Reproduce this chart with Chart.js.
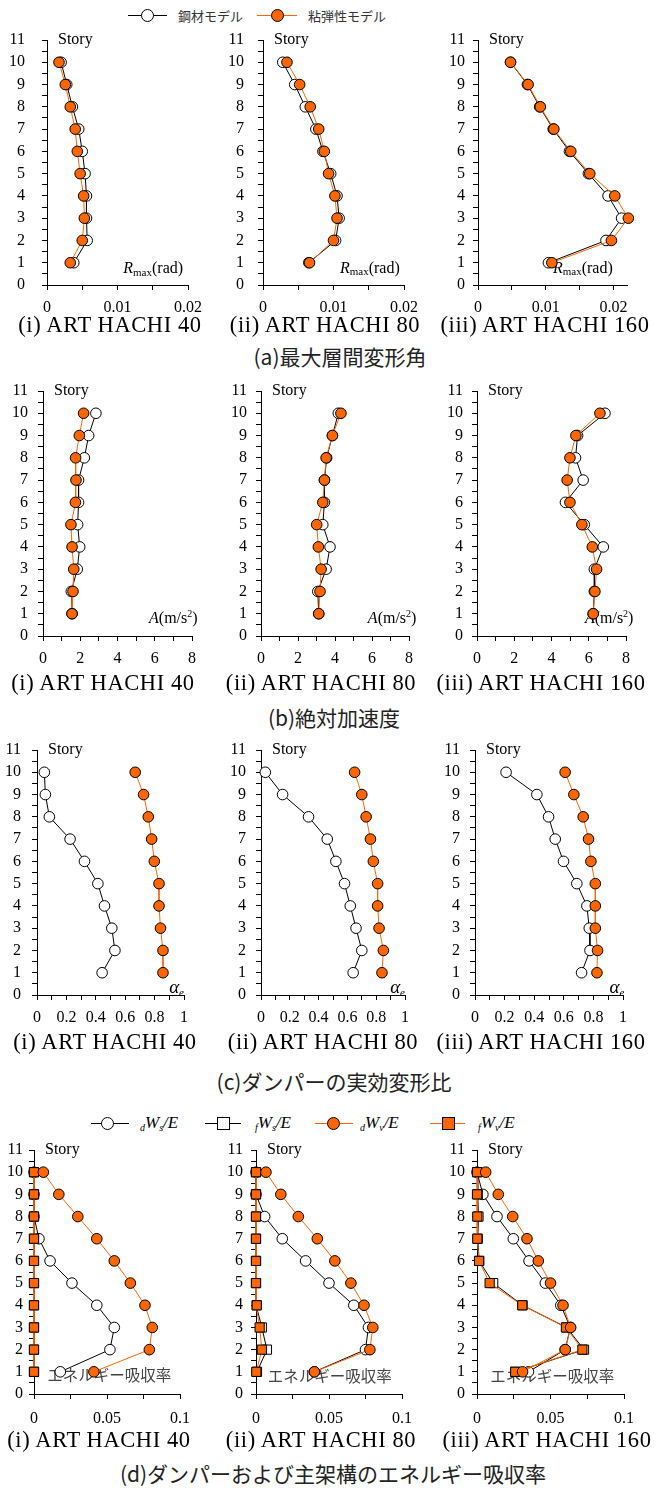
<!DOCTYPE html>
<html>
<head>
<meta charset="utf-8">
<script src="https://cdn.jsdelivr.net/npm/chart.js@4.4.1/dist/chart.umd.min.js"></script>
<style>
  body { margin: 0; background: #fff; width: 667px; height: 1488px; position: relative; overflow: hidden; font-family: "Liberation Serif", serif; }
  .t { position: absolute; white-space: nowrap; line-height: 1; transform: translate(-50%, -50%); }
  .sub { font-family: "Liberation Serif", serif; font-size: 22.5px; letter-spacing: 0.6px; color: #000; }
  .cap { font-family: "Noto Sans CJK JP", sans-serif; font-size: 21px; color: #222; }
  .lg { position: absolute; white-space: nowrap; line-height: 1; transform: translateY(-50%); }
  .jp { font-family: "Noto Sans CJK JP", sans-serif; font-size: 13px; color: #333; }
  .it { font-family: "Liberation Serif", serif; font-style: italic; font-size: 17px; color: #000; }
  .it sub { font-size: 10px; vertical-align: -3px; }
</style>
</head>
<body>
<script>
// story levels (top to bottom)
const stories = [10, 9, 8, 7, 6, 5, 4, 3, 2, 1];

// (a) max inter-story drift angle
const rmaxSteel40 = [0.0020, 0.0028, 0.0036, 0.0045, 0.0050, 0.0054, 0.0056, 0.0056, 0.0057, 0.0038];
const rmaxVisco40 = [0.0017, 0.0026, 0.0033, 0.0040, 0.0043, 0.0047, 0.0052, 0.0053, 0.0050, 0.0033];
const rmaxSteel80 = [0.0028, 0.0045, 0.0060, 0.0075, 0.0085, 0.0096, 0.0105, 0.0108, 0.0103, 0.0065];
const rmaxVisco80 = [0.0034, 0.0052, 0.0067, 0.0079, 0.0087, 0.0093, 0.0102, 0.0105, 0.0100, 0.0066];
const rmaxSteel160 = [0.0048, 0.0073, 0.0091, 0.0111, 0.0135, 0.0163, 0.0192, 0.0212, 0.0189, 0.0104];
const rmaxVisco160 = [0.0048, 0.0074, 0.0092, 0.0112, 0.0137, 0.0165, 0.0202, 0.0222, 0.0197, 0.0109];

// (b) absolute acceleration
const accSteel40 = [2.84, 2.45, 2.22, 1.91, 1.91, 1.86, 1.97, 1.84, 1.52, 1.56];
const accVisco40 = [2.18, 1.95, 1.75, 1.77, 1.74, 1.50, 1.56, 1.65, 1.61, 1.56];
const accSteel80 = [4.18, 3.86, 3.55, 3.43, 3.43, 3.34, 3.73, 3.52, 3.07, 3.12];
const accVisco80 = [4.32, 3.86, 3.52, 3.43, 3.34, 3.01, 3.10, 3.25, 3.19, 3.12];
const accSteel160 = [6.87, 5.40, 5.29, 5.70, 4.75, 5.76, 6.78, 6.30, 6.30, 6.24];
const accVisco160 = [6.60, 5.31, 4.99, 4.84, 4.99, 5.63, 6.19, 6.42, 6.33, 6.24];

// (c) effective deformation ratio
const alphaSteel40 = [0.05, 0.057, 0.084, 0.225, 0.323, 0.414, 0.459, 0.509, 0.53, 0.443];
const alphaVisco40 = [0.668, 0.725, 0.757, 0.78, 0.798, 0.83, 0.83, 0.84, 0.857, 0.857];
const alphaSteel80 = [0.03, 0.15, 0.33, 0.46, 0.52, 0.58, 0.62, 0.66, 0.70, 0.64];
const alphaVisco80 = [0.65, 0.70, 0.73, 0.76, 0.78, 0.81, 0.81, 0.82, 0.85, 0.84];
const alphaSteel160 = [0.21, 0.418, 0.497, 0.542, 0.598, 0.688, 0.756, 0.772, 0.777, 0.72];
const alphaVisco160 = [0.609, 0.668, 0.731, 0.767, 0.783, 0.813, 0.813, 0.813, 0.828, 0.824];

// (d) energy absorption ratio
const dWs40 = [0, 0, 0, 0.0034, 0.011, 0.026, 0.043, 0.055, 0.052, 0.018];
const fWs40 = [0, 0, 0, 0, 0, 0, 0, 0, 0, 0];
const dWv40 = [0.0064, 0.017, 0.030, 0.043, 0.055, 0.066, 0.076, 0.081, 0.079, 0.041];
const fWv40 = [0, 0, 0, 0, 0, 0, 0, 0, 0, 0];
const dWs80 = [0, 0, 0.0059, 0.018, 0.034, 0.050, 0.067, 0.077, 0.075, 0.040];
const fWs80 = [0, 0, 0, 0, 0, 0, 0.0005, 0.004, 0.0075, 0.0007];
const dWv80 = [0.0068, 0.017, 0.029, 0.042, 0.054, 0.065, 0.074, 0.080, 0.078, 0.040];
const fWv80 = [0, 0, 0, 0, 0, 0, 0.0005, 0.0025, 0.004, 0.0002];
const dWs160 = [0, 0.004, 0.0136, 0.0247, 0.0354, 0.0465, 0.057, 0.0635, 0.060, 0.035];
const fWs160 = [0.0003, 0.0005, 0.001, 0.0005, 0.0015, 0.011, 0.031, 0.061, 0.0728, 0.026];
const dWv160 = [0.0059, 0.0145, 0.0243, 0.034, 0.0417, 0.050, 0.0585, 0.0637, 0.060, 0.031];
const fWv160 = [0, 0, 0.0002, 0.0002, 0.0014, 0.0086, 0.0308, 0.0605, 0.0717, 0.026];

// tick labels
const storyTicks = [0, 1, 2, 3, 4, 5, 6, 7, 8, 9, 10, 11];
const rmaxTicks = ['0', '0.01', '0.02'];
const accTicks = ['0', '2', '4', '6', '8'];
const alphaTicks = ['0', '0.2', '0.4', '0.6', '0.8', '1'];
const energyTicks = ['0', '0.05', '0.1'];

const subtitles = ['(i) ART HACHI 40', '(ii) ART HACHI 80', '(iii) ART HACHI 160'];
const captions = ['(a)最大層間変形角', '(b)絶対加速度', '(c)ダンパーの実効変形比', '(d)ダンパーおよび主架構のエネルギー吸収率'];

const ORANGE = '#ff6600';
const SERIF = '"Liberation Serif", serif';

const steel = { line: '#000', fill: '#fff', shape: 'circle', order: 2 };
const visco = { line: ORANGE, fill: ORANGE, shape: 'circle', order: 1 };
const dWsStyle = { line: '#000', fill: '#fff', shape: 'circle', order: 4 };
const fWsStyle = { line: '#000', fill: '#fff', shape: 'rect', order: 3 };
const fWvStyle = { line: ORANGE, fill: ORANGE, shape: 'rect', order: 2 };
const dWvStyle = { line: ORANGE, fill: ORANGE, shape: 'circle', order: 1 };

function series(xs, st) {
  return {
    data: xs.map((v, i) => ({ x: v, y: stories[i] })),
    showLine: true,
    borderColor: st.line,
    borderWidth: 1,
    pointBackgroundColor: st.fill,
    pointBorderColor: '#000',
    pointBorderWidth: 1,
    pointStyle: st.shape,
    pointRadius: st.shape === 'rect' ? 6.5 : 5.3,
    pointHoverRadius: st.shape === 'rect' ? 6.5 : 5.3,
    tension: 0,
    clip: false,
    order: st.order
  };
}

// label inside the plot (rich text pieces)
const LABELS = {
  rmax: [
    { t: 'R', f: 'italic 16px ' + SERIF },
    { t: 'max', f: '11px ' + SERIF, dy: 4 },
    { t: '(rad)', f: '16px ' + SERIF }
  ],
  acc: [
    { t: 'A', f: 'italic 16px ' + SERIF },
    { t: '(m/s', f: '16px ' + SERIF },
    { t: '2', f: '10px ' + SERIF, dy: -5 },
    { t: ')', f: '16px ' + SERIF }
  ],
  alpha: [
    { t: 'α', f: 'italic 19px ' + SERIF },
    { t: 'e', f: 'italic 11px ' + SERIF, dy: 5 }
  ],
  energy: [
    { t: 'エネルギー吸収率', f: '15.5px "Noto Sans CJK JP", sans-serif', c: '#444' }
  ]
};

const innerText = {
  id: 'innerText',
  beforeDatasetsDraw(chart, args, opts) {
    const { ctx, chartArea, scales: { x, y } } = chart;
    ctx.save();
    ctx.textBaseline = 'middle';
    ctx.textAlign = 'left';
    ctx.fillStyle = '#000';
    ctx.font = '16px ' + SERIF;
    ctx.fillText('Story', chartArea.left + 11, y.getPixelForValue(11));

    const parts = LABELS[opts.label];
    let total = 0;
    parts.forEach(p => { ctx.font = p.f; total += ctx.measureText(p.t).width; });
    let px = x.getPixelForValue(opts.at[0]);
    if (opts.align === 'right') px -= total;
    const py = y.getPixelForValue(opts.at[1]);
    parts.forEach(p => {
      ctx.font = p.f;
      ctx.fillStyle = p.c || '#000';
      ctx.fillText(p.t, px, py + (p.dy || 0));
      px += ctx.measureText(p.t).width;
    });
    ctx.restore();
  }
};

function addChart(c) {
  const { left, right, top, bottom } = c.box;
  const YW = Math.min(42, left);
  const PT = 10, PR = 26, XH = 34;
  const w = right - left + YW + PR;
  const h = bottom - top + PT + XH;
  const cv = document.createElement('canvas');
  cv.width = w;
  cv.height = h;
  cv.style.cssText = `position:absolute;left:${left - YW}px;top:${top - PT}px;width:${w}px;height:${h}px`;
  document.body.appendChild(cv);

  const labelVals = c.xLabels.map(Number);
  const xVals = [];
  for (let v = 0; v <= c.xMax + 1e-9; v += c.xMinor) xVals.push(+v.toFixed(6));
  const yVals = [];
  for (let v = 0; v <= 11; v += 0.5) yVals.push(v);

  const tickFont = { family: SERIF, size: 16 };
  new Chart(cv, {
    type: 'scatter',
    data: { datasets: c.datasets },
    plugins: [innerText],
    options: {
      responsive: false,
      animation: false,
      events: [],
      layout: { padding: { left: 0, top: PT, right: PR, bottom: 0 } },
      plugins: {
        legend: { display: false },
        tooltip: { enabled: false },
        innerText: { label: c.label, at: c.labelAt, align: c.align || 'right' }
      },
      scales: {
        x: {
          type: 'linear', min: 0, max: c.xMax,
          afterBuildTicks: s => { s.ticks = xVals.map(v => ({ value: v })); },
          afterFit: s => { s.height = XH; s.paddingLeft = 0; s.paddingRight = 0; },
          ticks: {
            autoSkip: false, maxRotation: 0, padding: c.xPad || 8,
            color: '#000', font: tickFont,
            callback: v => {
              const i = labelVals.findIndex(l => Math.abs(l - v) < 1e-7);
              return i < 0 ? '' : c.xLabels[i];
            }
          },
          grid: { drawOnChartArea: false, drawTicks: true, tickLength: 5, tickColor: '#000', color: '#000' },
          border: { display: true, color: '#000', width: 1 }
        },
        y: {
          type: 'linear', min: 0, max: 11,
          afterBuildTicks: s => { s.ticks = yVals.map(v => ({ value: v })); },
          afterFit: s => { s.width = YW; s.paddingTop = 0; s.paddingBottom = 0; },
          ticks: {
            autoSkip: false, padding: c.gap - 5,
            color: '#000', font: tickFont,
            callback: v => storyTicks.includes(v) ? String(v) : ''
          },
          grid: { drawOnChartArea: false, drawTicks: true, tickLength: 5, tickColor: '#000', color: '#000' },
          border: { display: true, color: '#000', width: 1 }
        }
      }
    }
  });
}

function text(cls, str, cx, cy) {
  const d = document.createElement('div');
  d.className = 't ' + cls;
  d.textContent = str;
  d.style.left = cx + 'px';
  d.style.top = cy + 'px';
  document.body.appendChild(d);
}

function legendItem(x1, x2, cx, cy, shape, lineColor, fill, html, labelX, cls) {
  const ln = document.createElement('div');
  ln.style.cssText = `position:absolute;left:${x1}px;top:${cy - 0.5}px;width:${x2 - x1}px;height:1px;background:${lineColor}`;
  document.body.appendChild(ln);
  const s = 13;
  const mk = document.createElement('div');
  mk.style.cssText = `position:absolute;left:${cx - s / 2}px;top:${cy - s / 2}px;width:${s - 2}px;height:${s - 2}px;` +
    `border:1px solid #000;background:${fill};border-radius:${shape === 'circle' ? '50%' : '0'}`;
  document.body.appendChild(mk);
  const lb = document.createElement('div');
  lb.className = 'lg ' + cls;
  lb.innerHTML = html;
  lb.style.left = labelX + 'px';
  lb.style.top = cy + 'px';
  document.body.appendChild(lb);
}

// top legend
legendItem(128, 167, 147, 15, 'circle', '#000', '#fff', '鋼材モデル', 178, 'jp');
legendItem(257, 297, 277, 15, 'circle', ORANGE, ORANGE, '粘弾性モデル', 308, 'jp');

// (a)
addChart({ box: { left: 47, right: 188, top: 40, bottom: 285 }, xMax: 0.02, xMinor: 0.005, xLabels: rmaxTicks, gap: 22,
  label: 'rmax', labelAt: [0.0193, 0.72],
  datasets: [series(rmaxSteel40, steel), series(rmaxVisco40, visco)] });
addChart({ box: { left: 263, right: 404, top: 40, bottom: 285 }, xMax: 0.02, xMinor: 0.005, xLabels: rmaxTicks, gap: 19,
  label: 'rmax', labelAt: [0.0194, 0.74],
  datasets: [series(rmaxSteel80, steel), series(rmaxVisco80, visco)] });
addChart({ box: { left: 478, right: 627, top: 40, bottom: 285 }, xMax: 0.022, xMinor: 0.005, xLabels: rmaxTicks, gap: 13,
  label: 'rmax', labelAt: [0.0199, 0.74],
  datasets: [series(rmaxSteel160, steel), series(rmaxVisco160, visco)] });

// (b)
addChart({ box: { left: 43, right: 192, top: 391, bottom: 636 }, xMax: 8, xMinor: 1, xLabels: accTicks, gap: 15,
  label: 'acc', labelAt: [8.3, 0.76],
  datasets: [series(accSteel40, steel), series(accVisco40, visco)] });
addChart({ box: { left: 261, right: 409, top: 391, bottom: 636 }, xMax: 8, xMinor: 1, xLabels: accTicks, gap: 14,
  label: 'acc', labelAt: [8.4, 0.76],
  datasets: [series(accSteel80, steel), series(accVisco80, visco)] });
addChart({ box: { left: 477, right: 626, top: 391, bottom: 636 }, xMax: 8, xMinor: 1, xLabels: accTicks, gap: 14,
  label: 'acc', labelAt: [8.4, 0.76],
  datasets: [series(accSteel160, steel), series(accVisco160, visco)] });

// (c)
addChart({ box: { left: 37, right: 184, top: 750, bottom: 995 }, xMax: 1, xMinor: 0.1, xLabels: alphaTicks, gap: 16,
  label: 'alpha', labelAt: [1.0, 0.3],
  datasets: [series(alphaSteel40, steel), series(alphaVisco40, visco)] });
addChart({ box: { left: 261, right: 405, top: 750, bottom: 995 }, xMax: 1, xMinor: 0.1, xLabels: alphaTicks, gap: 15,
  label: 'alpha', labelAt: [1.0, 0.3],
  datasets: [series(alphaSteel80, steel), series(alphaVisco80, visco)] });
addChart({ box: { left: 475, right: 623, top: 750, bottom: 995 }, xMax: 1, xMinor: 0.1, xLabels: alphaTicks, gap: 15,
  label: 'alpha', labelAt: [1.01, 0.32],
  datasets: [series(alphaSteel160, steel), series(alphaVisco160, visco)] });

// (d)
addChart({ box: { left: 34, right: 180, top: 1150, bottom: 1394 }, xMax: 0.1, xMinor: 0.025, xLabels: energyTicks, gap: 11, xPad: 10,
  label: 'energy', labelAt: [0.009, 0.85], align: 'left',
  datasets: [series(dWs40, dWsStyle), series(fWs40, fWsStyle), series(fWv40, fWvStyle), series(dWv40, dWvStyle)] });
addChart({ box: { left: 256, right: 402, top: 1150, bottom: 1394 }, xMax: 0.1, xMinor: 0.025, xLabels: energyTicks, gap: 13, xPad: 10,
  label: 'energy', labelAt: [0.008, 0.8], align: 'left',
  datasets: [series(dWs80, dWsStyle), series(fWs80, fWsStyle), series(fWv80, fWvStyle), series(dWv80, dWvStyle)] });
addChart({ box: { left: 477, right: 624, top: 1150, bottom: 1394 }, xMax: 0.1, xMinor: 0.025, xLabels: energyTicks, gap: 12, xPad: 10,
  label: 'energy', labelAt: [0.009, 0.8], align: 'left',
  datasets: [series(dWs160, dWsStyle), series(fWs160, fWsStyle), series(fWv160, fWvStyle), series(dWv160, dWvStyle)] });

// bottom legend for (d)
legendItem(91, 129, 107, 1123, 'circle', '#000', '#fff', '<sub>d</sub>W<sub>s</sub>/E', 140, 'it');
legendItem(205, 241, 223, 1123, 'rect', '#000', '#fff', '<sub>f</sub>W<sub>s</sub>/E', 255, 'it');
legendItem(315, 353, 333, 1123, 'circle', ORANGE, ORANGE, '<sub>d</sub>W<sub>v</sub>/E', 360, 'it');
legendItem(430, 465, 448, 1123, 'rect', ORANGE, ORANGE, '<sub>f</sub>W<sub>v</sub>/E', 478, 'it');

// subtitles and captions
const subPos = [
  [[110, 325], [325, 325], [545, 325]],
  [[103, 683], [321, 683], [541, 683]],
  [[105, 1042], [323, 1042], [541, 1042]],
  [[99, 1440], [321, 1440], [547, 1440]]
];
subPos.forEach(row => row.forEach((p, i) => text('sub', subtitles[i], p[0], p[1])));
const capPos = [[340, 356], [334, 717], [334, 1081], [333, 1473]];
capPos.forEach((p, i) => text('cap', captions[i], p[0], p[1]));
</script>
</body>
</html>
